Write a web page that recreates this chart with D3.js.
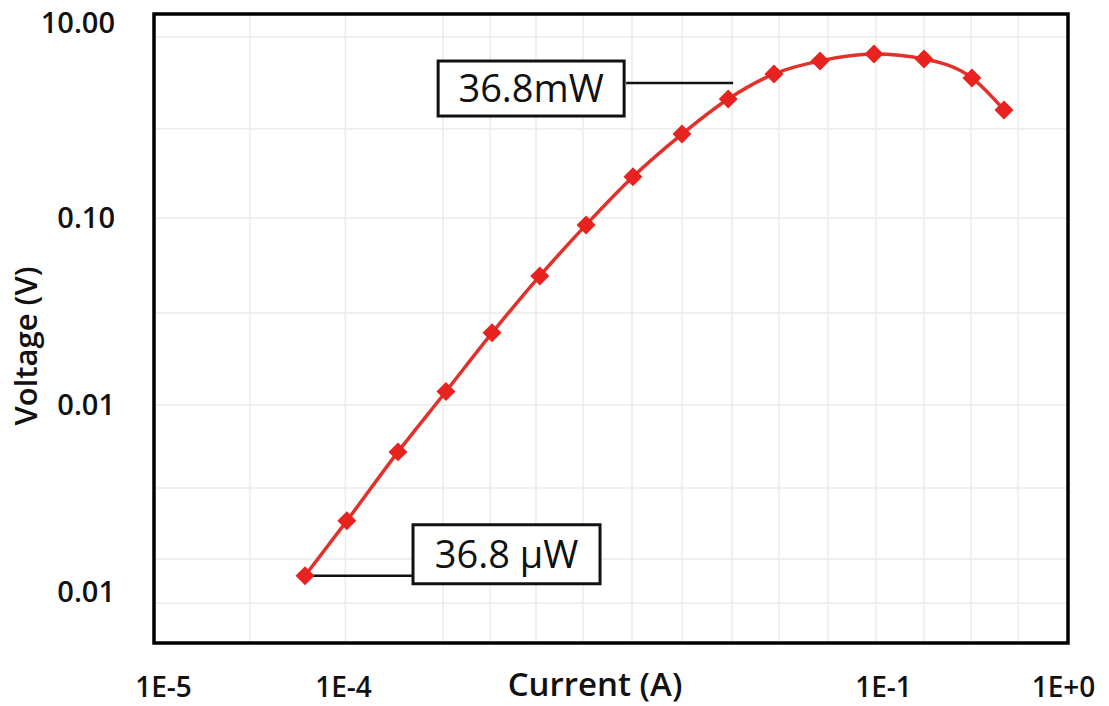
<!DOCTYPE html>
<html>
<head>
<meta charset="utf-8">
<script src="https://cdn.jsdelivr.net/npm/d3@7"></script>
<style>
  body { margin: 0; background: #fff; }
  svg { font-family: "Open Sans", sans-serif; }
</style>
</head>
<body>
<figure id="chart" style="margin:0"></figure>
<script>
// values
const current = [6.15e-5, 1.05e-4, 2.02e-4, 3.73e-4, 6.73e-4, 1.24e-3, 2.24e-3, 4.08e-3, 7.64e-3, 0.0138, 0.0248, 0.0447, 0.0891, 0.169, 0.312, 0.470];
const voltage = [1.22e-3, 2.40e-3, 5.61e-3, 0.0118, 0.0243, 0.049, 0.0918, 0.166, 0.281, 0.433, 0.589, 0.692, 0.753, 0.708, 0.561, 0.378];

const xTickValues = [1e-5, 1e-4, 1e-1, 1];
const xTickLabels = ["1E-5", "1E-4", "1E-1", "1E+0"];
const yTickValues = [1.1, 0.1, 0.01, 0.001];
const yTickLabels = ["10.00", "0.10", "0.01", "0.01"];

const xGrid = [3.04e-5, 1.03e-4, 3.6e-4, 6.56e-4, 1.18e-3, 2.15e-3, 4.03e-3, 7.64e-3, 0.0145, 0.0264, 0.0494, 0.0914, 0.169, 0.308, 0.562];
const yGrid = [0.93, 0.3, 0.1, 0.031, 0.01, 0.0036, 0.0015, 0.00087];

const calloutLabels = ["36.8mW", "36.8 \u00b5W"];
const calloutCurrent = [0.0147, 6.15e-5];
const calloutVoltage = [0.527, 1.22e-3];

const width = 1109, height = 706;
const plotL = 154, plotR = 1068, plotT = 14, plotB = 643;

const svg = d3.select("figure#chart")
  .append("svg")
  .attr("width", width)
  .attr("height", height);

const x = d3.scaleLog()
  .domain([8.91e-6, 1.066])
  .range([plotL, plotR]);

const y = d3.scaleLog()
  .domain([5.33e-4, 1.233])
  .range([plotB, plotT]);

// grid
svg.append("g")
  .selectAll("line")
  .data(xGrid)
  .enter()
  .append("line")
  .attr("x1", d => x(d)).attr("x2", d => x(d))
  .attr("y1", plotT).attr("y2", plotB)
  .attr("stroke", "#e9eded")
  .attr("stroke-width", 1.5);

svg.append("g")
  .selectAll("line")
  .data(yGrid)
  .enter()
  .append("line")
  .attr("x1", plotL).attr("x2", plotR)
  .attr("y1", d => y(d)).attr("y2", d => y(d))
  .attr("stroke", "#e9eded")
  .attr("stroke-width", 1.5);

// axes (labels only, frame drawn separately)
const xAxis = svg.append("g")
  .attr("transform", "translate(0," + plotB + ")")
  .call(d3.axisBottom(x).tickValues(xTickValues).tickSize(0).tickPadding(34)
    .tickFormat((d, i) => xTickLabels[i]));
xAxis.select(".domain").remove();
xAxis.selectAll("text")
  .attr("font-family", "Open Sans")
  .attr("font-size", 28)
  .attr("font-weight", 600)
  .attr("fill", "#111");

const yAxis = svg.append("g")
  .attr("transform", "translate(" + plotL + ",0)")
  .call(d3.axisLeft(y).tickValues(yTickValues).tickSize(0).tickPadding(39)
    .tickFormat((d, i) => yTickLabels[i]));
yAxis.select(".domain").remove();
yAxis.selectAll("text")
  .attr("font-family", "Open Sans")
  .attr("font-size", 29)
  .attr("font-weight", 600)
  .attr("fill", "#111");

svg.append("text")
  .attr("x", 595)
  .attr("y", 696)
  .attr("text-anchor", "middle")
  .attr("font-size", 33)
  .attr("font-weight", 600)
  .attr("fill", "#111")
  .text("Current (A)");

svg.append("text")
  .attr("transform", "translate(37,346)rotate(-90)")
  .attr("text-anchor", "middle")
  .attr("font-size", 31)
  .attr("font-weight", 600)
  .attr("fill", "#111")
  .text("Voltage (V)");

// frame
svg.append("rect")
  .attr("x", plotL).attr("y", plotT)
  .attr("width", plotR - plotL).attr("height", plotB - plotT)
  .attr("fill", "none")
  .attr("stroke", "#000")
  .attr("stroke-width", 3.5);

// callouts: box offset relative to anchor
const boxes = [
  { dx: -295, dy: -22, w: 186, h: 55, lineTo: -107 },
  { dx: 108, dy: -51, w: 187, h: 59, lineTo: 108 }
];

calloutLabels.forEach((label, i) => {
  const ax = x(calloutCurrent[i]);
  const ay = y(calloutVoltage[i]);
  const b = boxes[i];
  svg.append("line")
    .attr("x1", ax).attr("y1", ay)
    .attr("x2", ax + b.lineTo).attr("y2", ay)
    .attr("stroke", "#111")
    .attr("stroke-width", 2.5);
  svg.append("rect")
    .attr("x", ax + b.dx).attr("y", ay + b.dy)
    .attr("width", b.w).attr("height", b.h)
    .attr("fill", "#fff")
    .attr("stroke", "#111")
    .attr("stroke-width", 3);
  svg.append("text")
    .attr("x", ax + b.dx + b.w / 2)
    .attr("y", ay + b.dy + b.h / 2)
    .attr("dy", "0.36em")
    .attr("text-anchor", "middle")
    .attr("font-size", 38)
    .attr("fill", "#111")
    .text(label);
});

// curve and markers
const pts = current.map((c, i) => [c, voltage[i]]);

svg.append("path")
  .datum(pts)
  .attr("fill", "none")
  .attr("stroke", "#e2302a")
  .attr("stroke-width", 3.5)
  .attr("d", d3.line().x(d => x(d[0])).y(d => y(d[1])).curve(d3.curveMonotoneX));

svg.append("g")
  .selectAll("path")
  .data(pts)
  .enter()
  .append("path")
  .attr("transform", d => "translate(" + x(d[0]) + "," + y(d[1]) + ")rotate(45)")
  .attr("d", d3.symbol().type(d3.symbolSquare).size(180))
  .attr("fill", "#e8231f");
</script>
</body>
</html>
